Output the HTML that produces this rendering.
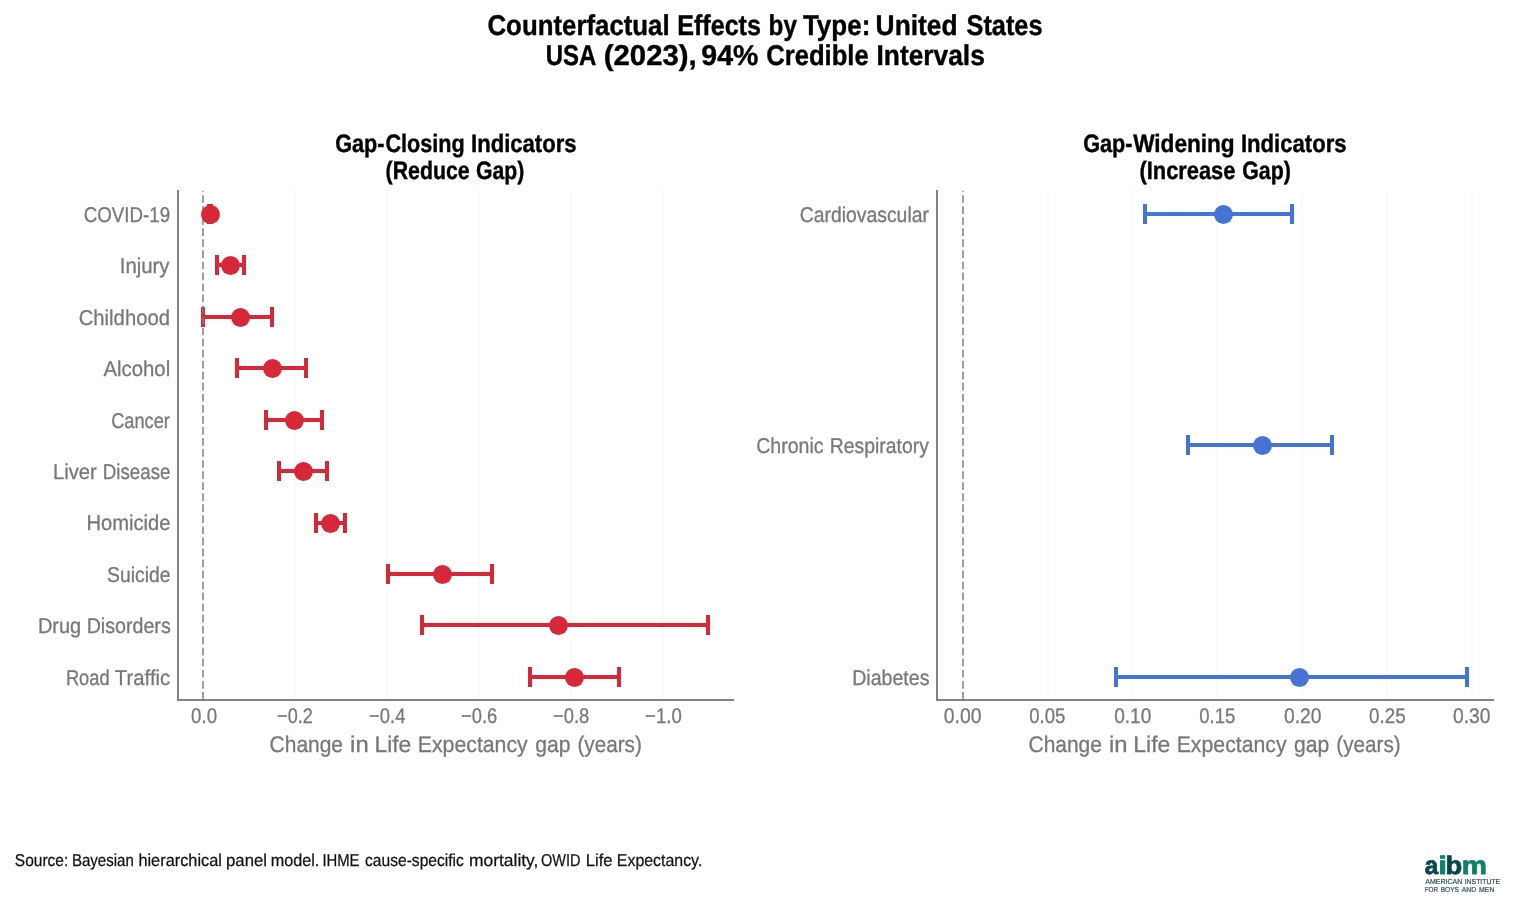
<!DOCTYPE html>
<html lang="en"><head><meta charset="utf-8"><title>Counterfactual Effects by Type: United States</title>
<style>html,body{margin:0;padding:0;background:#fff;}svg{display:block;}text{font-family:"Liberation Sans",sans-serif;text-rendering:geometricPrecision;}</style>
</head><body>
<svg width="1515" height="907" viewBox="0 0 1515 907">
<rect width="1515" height="907" fill="#ffffff"/>
<text y="35" font-size="28.6" fill="#000" stroke="#000" stroke-width="0.4" font-weight="bold"><tspan x="487.47" textLength="182.18" lengthAdjust="spacingAndGlyphs">Counterfactual</tspan> <tspan x="677.17" textLength="83.83" lengthAdjust="spacingAndGlyphs">Effects</tspan> <tspan x="768.62" textLength="28.29" lengthAdjust="spacingAndGlyphs">by</tspan> <tspan x="802.94" textLength="67.34" lengthAdjust="spacingAndGlyphs">Type:</tspan> <tspan x="875.62" textLength="81.92" lengthAdjust="spacingAndGlyphs">United</tspan> <tspan x="966.50" textLength="75.98" lengthAdjust="spacingAndGlyphs">States</tspan></text>
<text y="65" font-size="28.6" fill="#000" stroke="#000" stroke-width="0.4" font-weight="bold"><tspan x="545.76" textLength="49.72" lengthAdjust="spacingAndGlyphs">USA</tspan> <tspan x="603.81" textLength="92.93" lengthAdjust="spacingAndGlyphs">(2023),</tspan> <tspan x="701.37" textLength="57.01" lengthAdjust="spacingAndGlyphs">94%</tspan> <tspan x="766.18" textLength="102.49" lengthAdjust="spacingAndGlyphs">Credible</tspan> <tspan x="876.49" textLength="108.32" lengthAdjust="spacingAndGlyphs">Intervals</tspan></text>
<text y="152" font-size="25.3" fill="#000" stroke="#000" stroke-width="0.4" font-weight="bold"><tspan x="335.13" textLength="49.39" lengthAdjust="spacingAndGlyphs">Gap-</tspan><tspan x="385.43" textLength="79.31" lengthAdjust="spacingAndGlyphs">Closing</tspan> <tspan x="471.07" textLength="105.50" lengthAdjust="spacingAndGlyphs">Indicators</tspan></text>
<text y="179" font-size="25.3" fill="#000" stroke="#000" stroke-width="0.4" font-weight="bold"><tspan x="385.59" textLength="84.01" lengthAdjust="spacingAndGlyphs">(Reduce</tspan> <tspan x="476.05" textLength="48.26" lengthAdjust="spacingAndGlyphs">Gap)</tspan></text>
<text y="152" font-size="25.3" fill="#000" stroke="#000" stroke-width="0.4" font-weight="bold"><tspan x="1083.13" textLength="49.39" lengthAdjust="spacingAndGlyphs">Gap-</tspan><tspan x="1133.20" textLength="101.48" lengthAdjust="spacingAndGlyphs">Widening</tspan> <tspan x="1240.96" textLength="105.70" lengthAdjust="spacingAndGlyphs">Indicators</tspan></text>
<text y="179" font-size="25.3" fill="#000" stroke="#000" stroke-width="0.4" font-weight="bold"><tspan x="1139.46" textLength="95.99" lengthAdjust="spacingAndGlyphs">(Increase</tspan> <tspan x="1242.25" textLength="48.57" lengthAdjust="spacingAndGlyphs">Gap)</tspan></text>
<line x1="295.0" y1="190.5" x2="295.0" y2="698" stroke="#fafafa" stroke-width="2"/>
<line x1="387.0" y1="190.5" x2="387.0" y2="698" stroke="#fafafa" stroke-width="2"/>
<line x1="479.0" y1="190.5" x2="479.0" y2="698" stroke="#fafafa" stroke-width="2"/>
<line x1="571.0" y1="190.5" x2="571.0" y2="698" stroke="#fafafa" stroke-width="2"/>
<line x1="663.0" y1="190.5" x2="663.0" y2="698" stroke="#fafafa" stroke-width="2"/>
<g fill="#d62839">
<rect x="209" y="212" width="2" height="4"/>
<rect x="207" y="204" width="4" height="20"/>
<rect x="209" y="204" width="4" height="20"/>
<rect x="217" y="263" width="27" height="4"/>
<rect x="215" y="255" width="4" height="20"/>
<rect x="242" y="255" width="4" height="20"/>
<rect x="203" y="315" width="69" height="4"/>
<rect x="201" y="307" width="4" height="20"/>
<rect x="270" y="307" width="4" height="20"/>
<rect x="237" y="366" width="69" height="4"/>
<rect x="235" y="358" width="4" height="20"/>
<rect x="304" y="358" width="4" height="20"/>
<rect x="266" y="418" width="56" height="4"/>
<rect x="264" y="410" width="4" height="20"/>
<rect x="320" y="410" width="4" height="20"/>
<rect x="279" y="469" width="48" height="4"/>
<rect x="277" y="461" width="4" height="20"/>
<rect x="325" y="461" width="4" height="20"/>
<rect x="316" y="521" width="29" height="4"/>
<rect x="314" y="513" width="4" height="20"/>
<rect x="343" y="513" width="4" height="20"/>
<rect x="388" y="572" width="104" height="4"/>
<rect x="386" y="564" width="4" height="20"/>
<rect x="490" y="564" width="4" height="20"/>
<rect x="422" y="623" width="286" height="4"/>
<rect x="420" y="615" width="4" height="20"/>
<rect x="706" y="615" width="4" height="20"/>
<rect x="530" y="675" width="89" height="4"/>
<rect x="528" y="667" width="4" height="20"/>
<rect x="617" y="667" width="4" height="20"/>
</g>
<line x1="203.0" y1="699.7" x2="203.0" y2="190.8" stroke="#808080" stroke-opacity="0.76" stroke-width="2" stroke-dasharray="7.708 3.333"/>
<circle cx="210.5" cy="214.5" r="9.45" fill="#d62839"/>
<circle cx="230.5" cy="265.5" r="9.45" fill="#d62839"/>
<circle cx="240.5" cy="317.5" r="9.45" fill="#d62839"/>
<circle cx="272.5" cy="368.5" r="9.45" fill="#d62839"/>
<circle cx="294.5" cy="420.5" r="9.45" fill="#d62839"/>
<circle cx="303.5" cy="471.5" r="9.45" fill="#d62839"/>
<circle cx="330.5" cy="523.5" r="9.45" fill="#d62839"/>
<circle cx="442.5" cy="574.5" r="9.45" fill="#d62839"/>
<circle cx="558.5" cy="625.5" r="9.45" fill="#d62839"/>
<circle cx="574.5" cy="677.5" r="9.45" fill="#d62839"/>
<path d="M178.0 190.1 V700.0 H734.0" fill="none" stroke="#838383" stroke-width="2"/>
<text x="191.05" y="723" font-size="21.2" fill="#787878" stroke="#787878" stroke-width="0.3" textLength="26.01" lengthAdjust="spacingAndGlyphs">0.0</text>
<text x="277.09" y="723" font-size="21.2" fill="#787878" stroke="#787878" stroke-width="0.3" textLength="35.65" lengthAdjust="spacingAndGlyphs">−0.2</text>
<text x="369.07" y="723" font-size="21.2" fill="#787878" stroke="#787878" stroke-width="0.3" textLength="36.41" lengthAdjust="spacingAndGlyphs">−0.4</text>
<text x="460.98" y="723" font-size="21.2" fill="#787878" stroke="#787878" stroke-width="0.3" textLength="36.29" lengthAdjust="spacingAndGlyphs">−0.6</text>
<text x="552.98" y="723" font-size="21.2" fill="#787878" stroke="#787878" stroke-width="0.3" textLength="36.24" lengthAdjust="spacingAndGlyphs">−0.8</text>
<text x="645.07" y="723" font-size="21.2" fill="#787878" stroke="#787878" stroke-width="0.3" textLength="36.71" lengthAdjust="spacingAndGlyphs">−1.0</text>
<text x="83.81" y="222" font-size="21.4" fill="#787878" stroke="#787878" stroke-width="0.3" textLength="86.28" lengthAdjust="spacingAndGlyphs">COVID-19</text>
<text x="119.72" y="273" font-size="21.4" fill="#787878" stroke="#787878" stroke-width="0.3" textLength="49.84" lengthAdjust="spacingAndGlyphs">Injury</text>
<text x="78.74" y="325" font-size="21.4" fill="#787878" stroke="#787878" stroke-width="0.3" textLength="91.20" lengthAdjust="spacingAndGlyphs">Childhood</text>
<text x="103.45" y="376" font-size="21.4" fill="#787878" stroke="#787878" stroke-width="0.3" textLength="66.72" lengthAdjust="spacingAndGlyphs">Alcohol</text>
<text x="111.14" y="428" font-size="21.4" fill="#787878" stroke="#787878" stroke-width="0.3" textLength="58.81" lengthAdjust="spacingAndGlyphs">Cancer</text>
<text y="479" font-size="21.4" fill="#787878" stroke="#787878" stroke-width="0.3"><tspan x="52.93" textLength="43.93" lengthAdjust="spacingAndGlyphs">Liver</tspan> <tspan x="102.85" textLength="67.60" lengthAdjust="spacingAndGlyphs">Disease</tspan></text>
<text x="86.44" y="530" font-size="21.4" fill="#787878" stroke="#787878" stroke-width="0.3" textLength="84.08" lengthAdjust="spacingAndGlyphs">Homicide</text>
<text x="107.08" y="582" font-size="21.4" fill="#787878" stroke="#787878" stroke-width="0.3" textLength="63.44" lengthAdjust="spacingAndGlyphs">Suicide</text>
<text y="633" font-size="21.4" fill="#787878" stroke="#787878" stroke-width="0.3"><tspan x="37.95" textLength="43.24" lengthAdjust="spacingAndGlyphs">Drug</tspan> <tspan x="86.68" textLength="84.04" lengthAdjust="spacingAndGlyphs">Disorders</tspan></text>
<text y="685" font-size="21.4" fill="#787878" stroke="#787878" stroke-width="0.3"><tspan x="65.89" textLength="43.72" lengthAdjust="spacingAndGlyphs">Road</tspan> <tspan x="114.84" textLength="55.42" lengthAdjust="spacingAndGlyphs">Traffic</tspan></text>
<text y="752" font-size="22.7" fill="#787878" stroke="#787878" stroke-width="0.3"><tspan x="269.60" textLength="73.45" lengthAdjust="spacingAndGlyphs">Change</tspan> <tspan x="350.10" textLength="18.56" lengthAdjust="spacingAndGlyphs">in</tspan> <tspan x="374.42" textLength="36.96" lengthAdjust="spacingAndGlyphs">Life</tspan> <tspan x="417.75" textLength="109.99" lengthAdjust="spacingAndGlyphs">Expectancy</tspan> <tspan x="535.21" textLength="35.21" lengthAdjust="spacingAndGlyphs">gap</tspan> <tspan x="577.41" textLength="64.41" lengthAdjust="spacingAndGlyphs">(years)</tspan></text>
<line x1="1048.0" y1="190.5" x2="1048.0" y2="698" stroke="#fafafa" stroke-width="2"/>
<line x1="1132.0" y1="190.5" x2="1132.0" y2="698" stroke="#fafafa" stroke-width="2"/>
<line x1="1217.0" y1="190.5" x2="1217.0" y2="698" stroke="#fafafa" stroke-width="2"/>
<line x1="1302.0" y1="190.5" x2="1302.0" y2="698" stroke="#fafafa" stroke-width="2"/>
<line x1="1387.0" y1="190.5" x2="1387.0" y2="698" stroke="#fafafa" stroke-width="2"/>
<line x1="1472.0" y1="190.5" x2="1472.0" y2="698" stroke="#fafafa" stroke-width="2"/>
<g fill="#4574d5">
<rect x="1145" y="212" width="147" height="4"/>
<rect x="1143" y="204" width="4" height="20"/>
<rect x="1290" y="204" width="4" height="20"/>
<rect x="1188" y="443" width="144" height="4"/>
<rect x="1186" y="435" width="4" height="20"/>
<rect x="1330" y="435" width="4" height="20"/>
<rect x="1116" y="675" width="351" height="4"/>
<rect x="1114" y="667" width="4" height="20"/>
<rect x="1465" y="667" width="4" height="20"/>
</g>
<line x1="963.0" y1="699.7" x2="963.0" y2="190.8" stroke="#808080" stroke-opacity="0.76" stroke-width="2" stroke-dasharray="7.708 3.333"/>
<circle cx="1223.5" cy="214.5" r="9.45" fill="#4574d5"/>
<circle cx="1262.5" cy="445.5" r="9.45" fill="#4574d5"/>
<circle cx="1299.5" cy="677.5" r="9.45" fill="#4574d5"/>
<path d="M937.0 190.1 V700.0 H1494.0" fill="none" stroke="#838383" stroke-width="2"/>
<text x="943.82" y="723" font-size="21.2" fill="#787878" stroke="#787878" stroke-width="0.3" textLength="37.78" lengthAdjust="spacingAndGlyphs">0.00</text>
<text x="1029.25" y="723" font-size="21.2" fill="#787878" stroke="#787878" stroke-width="0.3" textLength="36.17" lengthAdjust="spacingAndGlyphs">0.05</text>
<text x="1114.13" y="723" font-size="21.2" fill="#787878" stroke="#787878" stroke-width="0.3" textLength="37.16" lengthAdjust="spacingAndGlyphs">0.10</text>
<text x="1199.26" y="723" font-size="21.2" fill="#787878" stroke="#787878" stroke-width="0.3" textLength="36.06" lengthAdjust="spacingAndGlyphs">0.15</text>
<text x="1284.03" y="723" font-size="21.2" fill="#787878" stroke="#787878" stroke-width="0.3" textLength="37.57" lengthAdjust="spacingAndGlyphs">0.20</text>
<text x="1369.05" y="723" font-size="21.2" fill="#787878" stroke="#787878" stroke-width="0.3" textLength="36.58" lengthAdjust="spacingAndGlyphs">0.25</text>
<text x="1453.03" y="723" font-size="21.2" fill="#787878" stroke="#787878" stroke-width="0.3" textLength="37.57" lengthAdjust="spacingAndGlyphs">0.30</text>
<text x="799.78" y="222" font-size="21.4" fill="#787878" stroke="#787878" stroke-width="0.3" textLength="129.15" lengthAdjust="spacingAndGlyphs">Cardiovascular</text>
<text y="453" font-size="21.4" fill="#787878" stroke="#787878" stroke-width="0.3"><tspan x="756.17" textLength="67.49" lengthAdjust="spacingAndGlyphs">Chronic</tspan> <tspan x="829.80" textLength="99.06" lengthAdjust="spacingAndGlyphs">Respiratory</tspan></text>
<text x="852.18" y="685" font-size="21.4" fill="#787878" stroke="#787878" stroke-width="0.3" textLength="77.34" lengthAdjust="spacingAndGlyphs">Diabetes</text>
<text y="752" font-size="22.7" fill="#787878" stroke="#787878" stroke-width="0.3"><tspan x="1028.50" textLength="73.45" lengthAdjust="spacingAndGlyphs">Change</tspan> <tspan x="1109.00" textLength="18.56" lengthAdjust="spacingAndGlyphs">in</tspan> <tspan x="1133.32" textLength="36.96" lengthAdjust="spacingAndGlyphs">Life</tspan> <tspan x="1176.65" textLength="109.99" lengthAdjust="spacingAndGlyphs">Expectancy</tspan> <tspan x="1294.11" textLength="35.21" lengthAdjust="spacingAndGlyphs">gap</tspan> <tspan x="1336.31" textLength="64.41" lengthAdjust="spacingAndGlyphs">(years)</tspan></text>
<text y="866" font-size="17.2" fill="#111" stroke="#111" stroke-width="0.25"><tspan x="14.83" textLength="53.47" lengthAdjust="spacingAndGlyphs">Source:</tspan> <tspan x="71.92" textLength="61.92" lengthAdjust="spacingAndGlyphs">Bayesian</tspan> <tspan x="138.42" textLength="83.49" lengthAdjust="spacingAndGlyphs">hierarchical</tspan> <tspan x="226.08" textLength="40.87" lengthAdjust="spacingAndGlyphs">panel</tspan> <tspan x="270.67" textLength="48.69" lengthAdjust="spacingAndGlyphs">model.</tspan> <tspan x="322.39" textLength="37.12" lengthAdjust="spacingAndGlyphs">IHME</tspan> <tspan x="365.06" textLength="98.82" lengthAdjust="spacingAndGlyphs">cause-specific</tspan> <tspan x="468.99" textLength="69.40" lengthAdjust="spacingAndGlyphs">mortality,</tspan> <tspan x="541.07" textLength="39.48" lengthAdjust="spacingAndGlyphs">OWID</tspan> <tspan x="585.79" textLength="26.83" lengthAdjust="spacingAndGlyphs">Life</tspan> <tspan x="616.85" textLength="85.46" lengthAdjust="spacingAndGlyphs">Expectancy.</tspan></text>
<text y="874" font-size="25.2" font-weight="bold" stroke-width="0.8" stroke-linejoin="round"><tspan x="1424.64" textLength="13.41" lengthAdjust="spacingAndGlyphs" fill="#0b4650" stroke="#0b4650">a</tspan><tspan x="1438.38" textLength="8.73" lengthAdjust="spacingAndGlyphs" fill="#0f8268" stroke="#0f8268">i</tspan><tspan x="1445.52" textLength="16.69" lengthAdjust="spacingAndGlyphs" fill="#0b4650" stroke="#0b4650">b</tspan><tspan x="1461.86" textLength="25.19" lengthAdjust="spacingAndGlyphs" fill="#0f8268" stroke="#0f8268">m</tspan></text>
<text y="884" font-size="7.3" fill="#2d4f57" stroke="#2d4f57" stroke-width="0.2"><tspan x="1425.20" textLength="37.17" lengthAdjust="spacingAndGlyphs">AMERICAN</tspan> <tspan x="1464.68" textLength="35.50" lengthAdjust="spacingAndGlyphs">INSTITUTE</tspan></text>
<text y="892" font-size="7.3" fill="#2d4f57" stroke="#2d4f57" stroke-width="0.2"><tspan x="1424.69" textLength="13.40" lengthAdjust="spacingAndGlyphs">FOR</tspan> <tspan x="1440.68" textLength="18.21" lengthAdjust="spacingAndGlyphs">BOYS</tspan> <tspan x="1461.70" textLength="14.42" lengthAdjust="spacingAndGlyphs">AND</tspan> <tspan x="1479.05" textLength="15.41" lengthAdjust="spacingAndGlyphs">MEN</tspan></text>
</svg>
</body></html>
